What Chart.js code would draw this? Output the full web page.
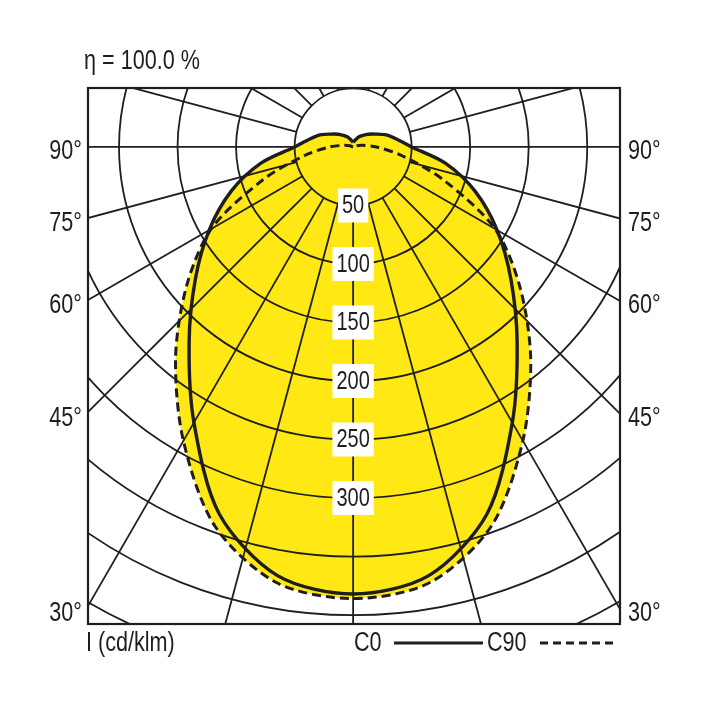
<!DOCTYPE html>
<html><head><meta charset="utf-8">
<script src="https://cdn.jsdelivr.net/npm/chart.js@4"></script>
<style>html,body{margin:0;background:#fff}#c{display:block}</style>
</head><body><canvas id="c" width="708" height="708"></canvas>
<script>
const angles = [0,10,20,30,40,50,60,70,80,90,100,110,120,130,140,150,160,170,180];
const c0Values = [382,372,334,272,218,176,142,111,80,50,38,30,22,17,13,10,7,5,4];
const c90Values = [386,378,345,290,236,186,140,82,42,20,8,3,0,0,0,0,0,0,0];
const ringValues = [50,100,150,200,250,300,350,400,450,500];
const ringLabels = ['50','100','150','200','250','300'];
const angleLabels = ['90°','75°','60°','45°','30°'];
const angleLabelDeg = [90,75,60,45,30];
const FONT = '"Liberation Sans",Arial,sans-serif';
const SX = 0.8;

function curve(vals){
  const pts=[];
  for(let i=angles.length-1;i>=0;i--){const a=angles[i]*Math.PI/180;pts.push({x:-vals[i]*Math.sin(a),y:-vals[i]*Math.cos(a)});}
  for(let i=1;i<angles.length;i++){const a=angles[i]*Math.PI/180;pts.push({x:vals[i]*Math.sin(a),y:-vals[i]*Math.cos(a)});}
  return pts;
}
function txt(ctx,t,x,y,align){
  const w=ctx.measureText(t).width*SX;
  let x0=align==='right'?x-w:align==='center'?x-w/2:x;
  ctx.save();ctx.translate(x0,y);ctx.scale(SX,1);ctx.textAlign='left';ctx.fillText(t,0,0);ctx.restore();
  return w;
}
const grid={id:'grid',
 beforeDatasetsDraw(ch){
  const {ctx,chartArea:A,scales:{x,y}}=ch;
  const px=(r,a)=>[x.getPixelForValue(r*Math.sin(a)),y.getPixelForValue(-r*Math.cos(a))];
  ctx.save();ctx.beginPath();ctx.rect(A.left,A.top,A.right-A.left,A.bottom-A.top);ctx.clip();
  ctx.strokeStyle='#1e1e1e';ctx.lineWidth=1.8;
  const cx=x.getPixelForValue(0),cy=y.getPixelForValue(0);
  const k=x.getPixelForValue(1)-cx;
  ringValues.forEach(r=>{ctx.beginPath();ctx.arc(cx,cy,r*k,0,Math.PI*2);ctx.stroke();});
  for(let d=-180;d<=180;d+=15){const a=d*Math.PI/180;const p1=px(50,a),p2=px(900,a);
    ctx.beginPath();ctx.moveTo(p1[0],p1[1]);ctx.lineTo(p2[0],p2[1]);ctx.stroke();}
  ctx.restore();
 },
 afterDraw(ch){
  const {ctx,chartArea:A,scales:{x,y}}=ch;
  ctx.save();
  ctx.strokeStyle='#1e1e1e';ctx.lineWidth=2.2;ctx.strokeRect(A.left,A.top,A.right-A.left,A.bottom-A.top);
  ctx.fillStyle='#1e1e1e';ctx.textBaseline='middle';
  ctx.font='25px '+FONT;
  const cx=x.getPixelForValue(0);
  ringLabels.forEach(t=>{const yy=y.getPixelForValue(-Number(t));const w=ctx.measureText(t).width*SX+8;
    ctx.fillStyle='#fff';ctx.fillRect(cx-w/2,yy-17,w,34);ctx.fillStyle='#1e1e1e';txt(ctx,t,cx,yy+1,'center');});
  ctx.font='27px '+FONT;
  angleLabelDeg.forEach((d,i)=>{const a=d*Math.PI/180;
    let yy=d===90?y.getPixelForValue(0):y.getPixelForValue(-(x.getValueForPixel(A.right))/Math.tan(a));
    yy=Math.min(yy,A.bottom-12)+5;
    txt(ctx,angleLabels[i],A.left-6,yy,'right');
    txt(ctx,angleLabels[i],A.right+8,yy,'left');});
  txt(ctx,'η = 100.0 %',84,62,'left');
  txt(ctx,'I (cd/klm)',86,644,'left');
  txt(ctx,'C0',354,644,'left');txt(ctx,'C90',487,644,'left');
  ctx.lineWidth=3;ctx.beginPath();ctx.moveTo(394,643);ctx.lineTo(483,643);ctx.stroke();
  ctx.setLineDash([8,5]);ctx.beginPath();ctx.moveTo(540,643);ctx.lineTo(616,643);ctx.stroke();
  ctx.restore();
 }};
new Chart(document.getElementById('c'),{
 type:'scatter',
 data:{datasets:[
  {label:'C90',data:curve(c90Values),showLine:true,pointRadius:0,borderColor:'#1e1e1e',borderWidth:3,borderDash:[9,5],tension:0.3,fill:'shape',backgroundColor:'#ffe814'},
  {label:'C0',data:curve(c0Values),showLine:true,pointRadius:0,borderColor:'#1e1e1e',borderWidth:3.4,tension:0.3,fill:'shape',backgroundColor:'#ffe814'}
 ]},
 options:{responsive:false,animation:false,
  layout:{padding:{left:88,right:88,top:88,bottom:84}},
  scales:{x:{type:'linear',display:false,min:-226.5,max:228},y:{type:'linear',display:false,min:-407.7,max:50.4}},
  plugins:{legend:{display:false},tooltip:{enabled:false},filler:{drawTime:'beforeDraw'}}},
 plugins:[grid]});
</script></body></html>
